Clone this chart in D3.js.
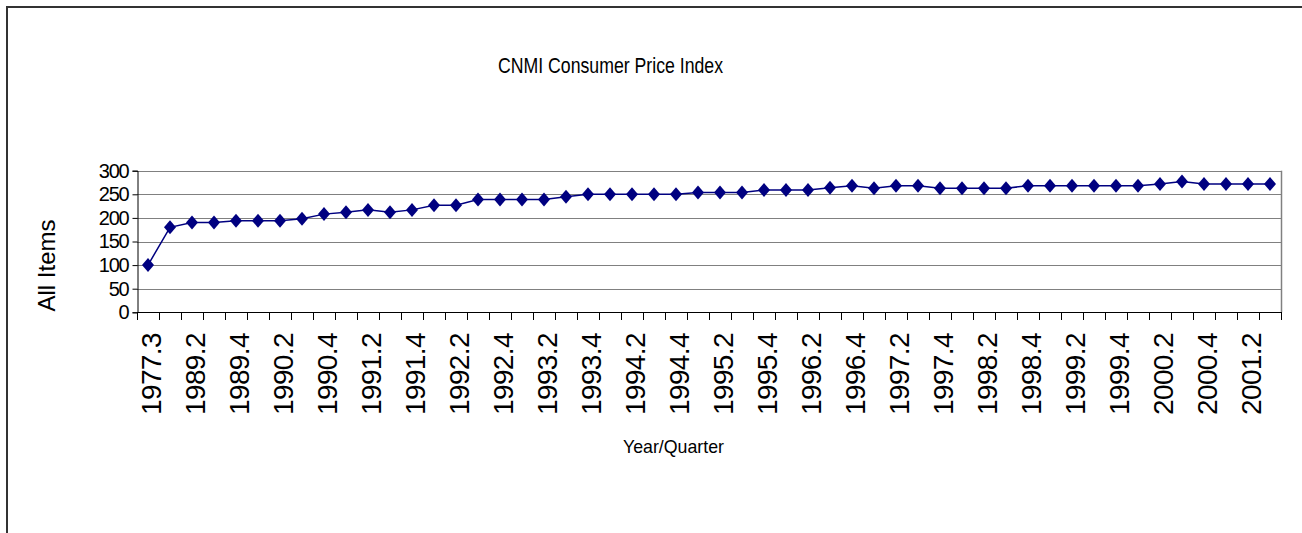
<!DOCTYPE html>
<html>
<head>
<meta charset="utf-8">
<script src="https://cdn.jsdelivr.net/npm/d3@7"></script>
<style>
  body { margin: 0; background: #fff; }
  text { font-family: Arial, "Liberation Sans", sans-serif; fill: #000; }
</style>
</head>
<body>
<div class="chart"></div>
<script>
var categories = [
  '1977.3', '1989.1', '1989.2', '1989.3', '1989.4', '1990.1', '1990.2', '1990.3',
  '1990.4', '1991.1', '1991.2', '1991.3', '1991.4', '1992.1', '1992.2', '1992.3',
  '1992.4', '1993.1', '1993.2', '1993.3', '1993.4', '1994.1', '1994.2', '1994.3',
  '1994.4', '1995.1', '1995.2', '1995.3', '1995.4', '1996.1', '1996.2', '1996.3',
  '1996.4', '1997.1', '1997.2', '1997.3', '1997.4', '1998.1', '1998.2', '1998.3',
  '1998.4', '1999.1', '1999.2', '1999.3', '1999.4', '2000.1', '2000.2', '2000.3',
  '2000.4', '2001.1', '2001.2', '2001.3'
];

var allItems = [
  100, 180, 190, 190, 194, 194, 194, 198,
  208, 212, 217, 212, 217, 227, 227, 239,
  239, 239, 239, 245, 250, 250, 250, 250,
  250, 254, 254, 254, 259, 259, 259, 264,
  268, 263, 268, 268, 263, 263, 263, 263,
  268, 268, 268, 268, 268, 268, 272, 277,
  272, 272, 272, 272
];

var yTicks = [0, 50, 100, 150, 200, 250, 300];

// only every second quarter gets a label, as in the original
var xLabels = categories.filter(function (d, i) { return i % 2 === 0; });

(function draw() {

  var width = 1302;
  var height = 533;
  var plot = { left: 137, right: 1281, top: 170.7, bottom: 312.3 };

  var svg = d3.select('.chart').append('svg')
    .attr('width', width)
    .attr('height', height);

  // outer chart frame, runs off the right and bottom edge
  svg.append('rect')
    .attr('x', 7)
    .attr('y', 7)
    .attr('width', 1400)
    .attr('height', 600)
    .attr('fill', 'none')
    .attr('stroke', '#333')
    .attr('stroke-width', 2);

  var x = d3.scaleBand()
    .domain(categories)
    .range([plot.left, plot.right])
    .padding(0);

  var y = d3.scaleLinear()
    .domain([0, 300])
    .range([plot.bottom, plot.top]);

  // gridlines
  svg.append('g')
    .selectAll('line')
    .data(yTicks.slice(1))
    .enter()
  .append('line')
    .attr('x1', plot.left)
    .attr('x2', plot.right)
    .attr('y1', function (d) { return Math.round(y(d)) + 0.5; })
    .attr('y2', function (d) { return Math.round(y(d)) + 0.5; })
    .attr('stroke', '#808080')
    .attr('stroke-width', 1);

  // right border of the plot area
  svg.append('line')
    .attr('x1', plot.right + 0.5)
    .attr('x2', plot.right + 0.5)
    .attr('y1', plot.top)
    .attr('y2', plot.bottom)
    .attr('stroke', '#808080')
    .attr('stroke-width', 1.5);

  // y axis
  var yAxis = svg.append('g')
    .attr('transform', 'translate(' + (plot.left + 0.5) + ',0)')
    .call(d3.axisLeft(y).tickValues(yTicks).tickSize(5).tickPadding(4));

  yAxis.select('.domain').attr('stroke', '#000');
  yAxis.selectAll('.tick line').attr('stroke', '#000');
  yAxis.selectAll('.tick text')
    .attr('font-size', 20)
    .attr('font-family', 'Arial, "Liberation Sans", sans-serif')
    .attr('letter-spacing', -1.2)
    .attr('fill', '#000');

  // x axis: ticks sit between the quarters
  var xAxis = svg.append('g');

  xAxis.append('line')
    .attr('x1', plot.left)
    .attr('x2', plot.right + 1)
    .attr('y1', Math.round(plot.bottom) + 0.5)
    .attr('y2', Math.round(plot.bottom) + 0.5)
    .attr('stroke', '#000');

  var edges = categories.map(function (d) { return x(d); }).concat([x.range()[1]]);

  xAxis.selectAll('.xtick')
    .data(edges)
    .enter()
  .append('line')
    .attr('class', 'xtick')
    .attr('x1', function (d) { return Math.round(d) + 0.5; })
    .attr('x2', function (d) { return Math.round(d) + 0.5; })
    .attr('y1', Math.round(plot.bottom))
    .attr('y2', Math.round(plot.bottom) + 8)
    .attr('stroke', '#000');

  xAxis.selectAll('.xlabel')
    .data(xLabels)
    .enter()
  .append('text')
    .attr('class', 'xlabel')
    .attr('transform', function (d) {
      return 'translate(' + (x(d) + x.bandwidth() / 2) + ',333) rotate(-90)';
    })
    .attr('text-anchor', 'end')
    .attr('dy', '0.45em')
    .attr('font-size', 28)
    .attr('letter-spacing', -0.6)
    .text(function (d) { return d; });

  // series line and diamond markers
  var line = d3.line()
    .x(function (d, i) { return x(categories[i]) + x.bandwidth() / 2; })
    .y(function (d) { return y(d); });

  svg.append('path')
    .datum(allItems)
    .attr('d', line)
    .attr('fill', 'none')
    .attr('stroke', '#000080')
    .attr('stroke-width', 1.5);

  svg.append('g')
    .selectAll('path')
    .data(allItems)
    .enter()
  .append('path')
    .attr('d', 'M0,-7L6,0L0,7L-6,0Z')
    .attr('transform', function (d, i) {
      return 'translate(' + (x(categories[i]) + x.bandwidth() / 2) + ',' + y(d) + ')';
    })
    .attr('fill', '#000080');

  // titles
  svg.append('text')
    .attr('x', 498)
    .attr('y', 73)
    .attr('font-size', 22)
    .attr('textLength', 225)
    .attr('lengthAdjust', 'spacingAndGlyphs')
    .text('CNMI Consumer Price Index');

  svg.append('text')
    .attr('transform', 'translate(55,265.5) rotate(-90)')
    .attr('text-anchor', 'middle')
    .attr('font-size', 24)
    .text('All Items');

  svg.append('text')
    .attr('x', 623)
    .attr('y', 453)
    .attr('font-size', 19)
    .attr('textLength', 101)
    .attr('lengthAdjust', 'spacingAndGlyphs')
    .text('Year/Quarter');
})();
</script>
</body>
</html>
